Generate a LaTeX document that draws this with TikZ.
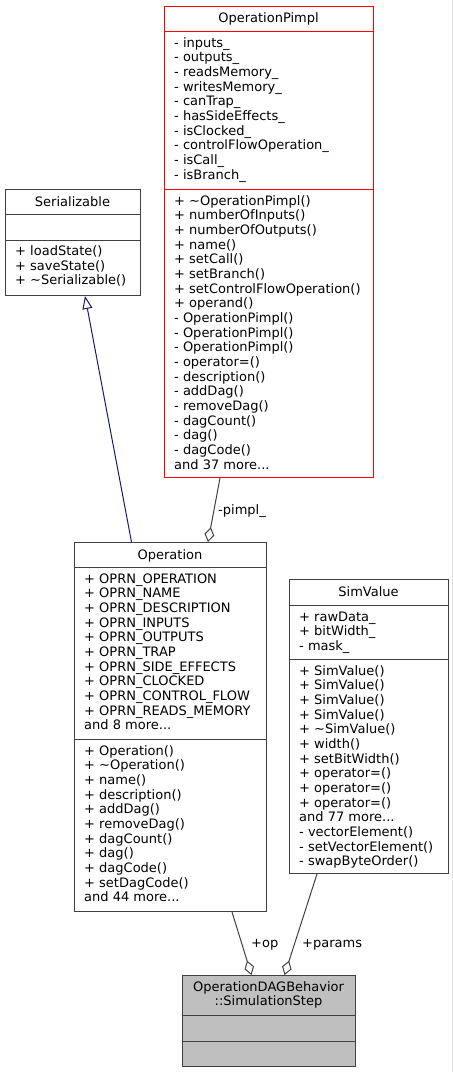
\documentclass[tikz,border=0pt]{standalone}
\usepackage{fontspec}
\setmainfont{DejaVu Sans}
\usetikzlibrary{arrows.meta,calc}
\definecolor{edgegray}{HTML}{404040}
\definecolor{navyline}{HTML}{191970}
\definecolor{boxgray}{HTML}{BFBFBF}
\tikzset{
  cls/.style={draw=edgegray, line width=1bp, inner sep=0pt, anchor=north west, fill=white},
  trunc/.style={cls, draw=red},
  txt/.style={anchor=base west, inner sep=0pt, font=\fontsize{13bp}{15bp}\selectfont},
  ttl/.style={anchor=base, inner sep=0pt, font=\fontsize{13bp}{15bp}\selectfont},
  sepline/.style={draw=edgegray, line width=1bp},
  assoc/.style={draw=edgegray, line width=1bp, {Diamond[open,length=15bp,width=10bp]}-},
  inherit/.style={draw=navyline, line width=1bp, -{Triangle[open,length=13bp,width=10bp]}},
  lbl/.style={anchor=base west, inner sep=0pt, font=\fontsize{13bp}{15bp}\selectfont},
}
\newcommand\tdots{.{}.{}.}
\newcommand\cmplines[4]{%
  \foreach \t [count=\i from 0] in {#4} \node[txt] (#1-\i) at (#2, #3+4.5+14.67*\i) {\t};}
\begin{document}
\begin{tikzpicture}[x=1bp,y=-1bp]
\useasboundingbox (0,0) rectangle (453,1072);
\draw[black!12, line width=1bp] (452.5,0) -- (452.5,1072);

% OperationPimpl
\node[trunc, minimum width=209bp, minimum height=471bp] (pimpl) at (164,6) {};
\draw[red, line width=1bp] ($(pimpl.north west)+(0,25)$) -- ($(pimpl.north east)+(0,25)$);
\draw[red, line width=1bp] ($(pimpl.north west)+(0,183)$) -- ($(pimpl.north east)+(0,183)$);
\node[ttl] (pimplT) at (268.5,22.5) {OperationPimpl};
\cmplines{pa}{174}{42.7}{- inputs\_, - outputs\_, - readsMemory\_, - writesMemory\_, - canTrap\_, - hasSideEffects\_, - isClocked\_, - controlFlowOperation\_, - isCall\_, - isBranch\_}
\cmplines{pm}{174}{200.7}{+ \textasciitilde OperationPimpl(), + numberOfInputs(), + numberOfOutputs(), + name(), + setCall(), + setBranch(), + setControlFlowOperation(), + operand(), - OperationPimpl(), - OperationPimpl(), - OperationPimpl(), - operator=(), - description(), - addDag(), - removeDag(), - dagCount(), - dag(), - dagCode(), and 37 more\tdots}

% Serializable
\node[cls, minimum width=135bp, minimum height=106bp] (ser) at (5,189) {};
\draw[sepline] ($(ser.north west)+(0,25)$) -- ($(ser.north east)+(0,25)$);
\draw[sepline] ($(ser.north west)+(0,51)$) -- ($(ser.north east)+(0,51)$);
\node[ttl] (serT) at (72.5,206) {Serializable};
\cmplines{sm}{15}{251}{+ loadState(), + saveState(), + \textasciitilde Serializable()}

% Operation
\node[cls, minimum width=192bp, minimum height=369bp] (op) at (74,542) {};
\draw[sepline] ($(op.north west)+(0,25)$) -- ($(op.north east)+(0,25)$);
\draw[sepline] ($(op.north west)+(0,197)$) -- ($(op.north east)+(0,197)$);
\node[ttl] (opT) at (170,559) {Operation};
\cmplines{oa}{84}{578.5}{+ OPRN\_OPERATION, + OPRN\_NAME, + OPRN\_DESCRIPTION, + OPRN\_INPUTS, + OPRN\_OUTPUTS, + OPRN\_TRAP, + OPRN\_SIDE\_EFFECTS, + OPRN\_CLOCKED, + OPRN\_CONTROL\_FLOW, + OPRN\_READS\_MEMORY, and 8 more\tdots}
\cmplines{om}{84}{750.5}{+ Operation(), + \textasciitilde Operation(), + name(), + description(), + addDag(), + removeDag(), + dagCount(), + dag(), + dagCode(), + setDagCode(), and 44 more\tdots}

% SimValue
\node[cls, minimum width=159bp, minimum height=294bp] (sv) at (289,579) {};
\draw[sepline] ($(sv.north west)+(0,26)$) -- ($(sv.north east)+(0,26)$);
\draw[sepline] ($(sv.north west)+(0,80)$) -- ($(sv.north east)+(0,80)$);
\node[ttl] (svT) at (368.5,596.5) {SimValue};
\cmplines{sa}{299}{616.5}{+ rawData\_, + bitWidth\_, - mask\_}
\cmplines{sm2}{299}{670.5}{+ SimValue(), + SimValue(), + SimValue(), + SimValue(), + \textasciitilde SimValue(), + width(), + setBitWidth(), + operator=(), + operator=(), + operator=(), and 77 more\tdots, - vectorElement(), - setVectorElement(), - swapByteOrder()}

% SimulationStep
\node[cls, fill=boxgray, minimum width=173bp, minimum height=91bp] (step) at (182,975) {};
\draw[sepline] ($(step.north west)+(0,40)$) -- ($(step.north east)+(0,40)$);
\draw[sepline] ($(step.north west)+(0,66)$) -- ($(step.north east)+(0,66)$);
\node[ttl] (stepT1) at (268.5,991.5) {OperationDAGBehavior};
\node[ttl] (stepT2) at (268.5,1005.5) {::SimulationStep};

% connectors
\draw[inherit] ($(op.north west)+(57.5,0)$) -- ($(ser.south west)+(80,0)$);
\draw[assoc] ($(op.north west)+(134,0)$) -- ($(pimpl.south west)+(56,0)$);
\draw[assoc] ($(step.north west)+(69.5,0)$) -- ($(op.south west)+(158,0)$);
\draw[assoc] ($(step.north west)+(102.5,0)$) -- ($(sv.south west)+(28,0)$);

\node[lbl] (lpimpl) at (218,514.5) {-pimpl\_};
\node[lbl] (lop) at (251,947.5) {+op};
\node[lbl] (lparams) at (302,947.5) {+params};
\end{tikzpicture}
\end{document}
